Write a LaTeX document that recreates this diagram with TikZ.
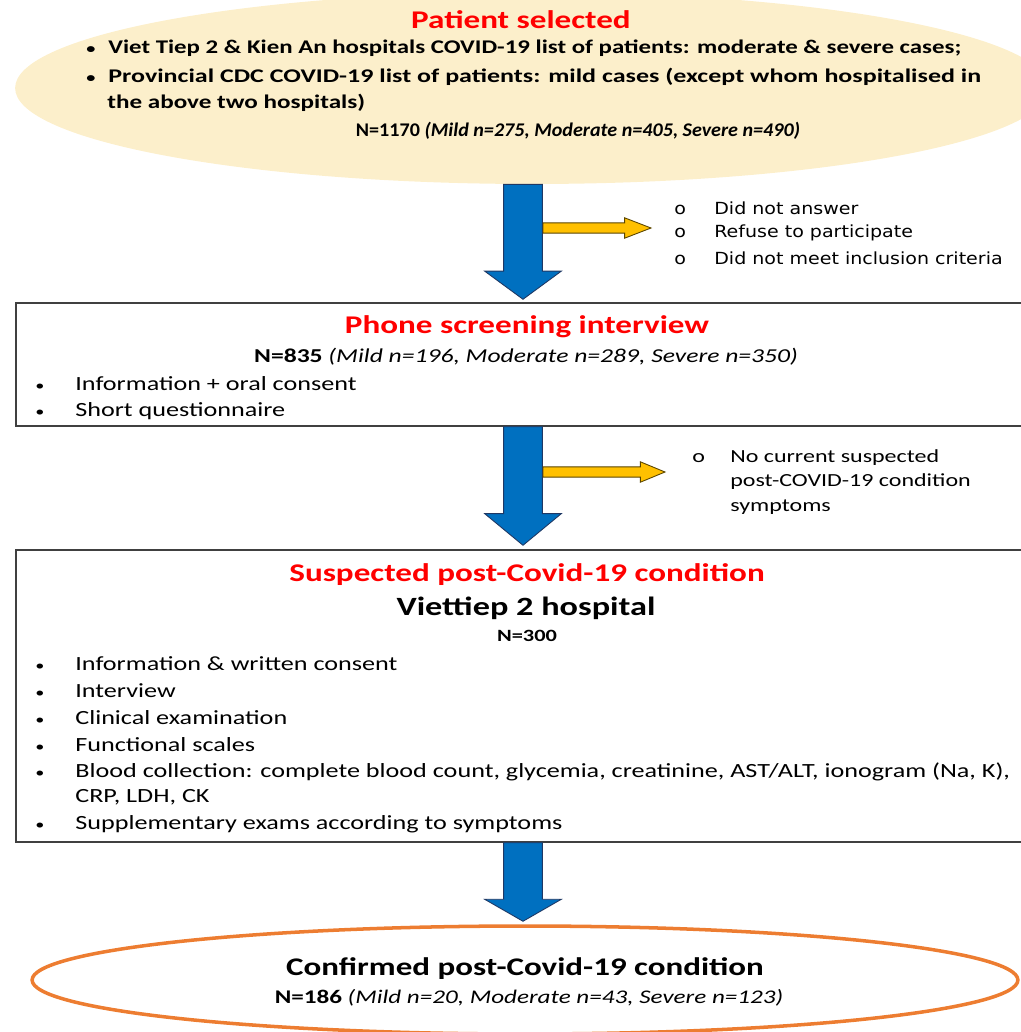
\documentclass[tikz,border=0pt]{standalone}
\usepackage{fontspec}
\usepackage{graphicx}
\setmainfont{Carlito}[FakeStretch=1.3]
\newfontfamily\sidefont{DejaVu Sans}[FakeStretch=1.14]
\usetikzlibrary{shapes.geometric,calc}

\definecolor{selfill}{HTML}{FCEFCB}
\definecolor{boxline}{HTML}{404040}
\definecolor{arrowblue}{HTML}{0070C0}
\definecolor{blueedge}{HTML}{1F3864}
\definecolor{arrowyellow}{HTML}{FFC000}
\definecolor{yellowedge}{HTML}{5A4500}
\definecolor{confline}{HTML}{ED7D31}
\definecolor{titlered}{HTML}{FF0000}

% bullet and circle marks of the lists
\newcommand{\smallbul}{{\fontsize{8}{8}\selectfont\textbullet}}
\newcommand{\selbul}{\makebox[0.44cm][l]{\smallbul}}
\newcommand{\boxbul}{\makebox[0.8cm][l]{\smallbul}}
\newcommand{\dropmark}[1]{\makebox[#1][l]{o}}

% block arrows, #3 = head length
\newcommand{\blockdown}[3]{%
  \filldraw[blockblue] let \p1=(#1), \p2=(#2) in
    (\x1-11pt,\y1) -- (\x1-11pt,\y2+#3) -- (\x1-21.8pt,\y2+#3) -- (\x1,\y2)
    -- (\x1+21.8pt,\y2+#3) -- (\x1+11pt,\y2+#3) -- (\x1+11pt,\y1) -- cycle;}
\newcommand{\blockright}[3]{%
  \filldraw[blockyellow] let \p1=(#1), \p2=(#2) in
    (\x1,\y1+2.9pt) -- (\x2-#3,\y1+2.9pt) -- (\x2-#3,\y1+5.8pt) -- (\x2,\y1)
    -- (\x2-#3,\y1-5.8pt) -- (\x2-#3,\y1-2.9pt) -- (\x1,\y1-2.9pt) -- cycle;}

\begin{document}
\begin{tikzpicture}[x=0.02cm, y=-0.02cm,
    stage/.style={draw=boxline, line width=0.85pt, rectangle, inner sep=0pt,
      minimum width=20.28cm},
    blockblue/.style={fill=arrowblue, draw=blueedge, line width=0.5pt},
    blockyellow/.style={fill=arrowyellow, draw=yellowedge, line width=0.5pt},
    line/.style={anchor=west, inner sep=0pt},
    mid/.style={anchor=center, inner sep=0pt}]

    \useasboundingbox (0,0) rectangle (1021,1032);

    % the four stages
    \node[ellipse, fill=selfill, inner sep=0pt, minimum width=20.68cm,
      minimum height=3.84cm] (sel) at (532,88) {};
    \node[stage, minimum height=2.46cm] (phone) at (523,364.5) {};
    \node[stage, minimum height=5.84cm] (susp) at (523,696) {};
    \node[ellipse, draw=confline, line width=2pt, inner sep=0pt,
      minimum width=19.72cm, minimum height=2.16cm] (conf) at (525,980) {};

    % patient selected
    \node[mid, text=titlered, font=\fontsize{14.5}{17}\bfseries\selectfont] (selT) at (521,20) {Patient selected};
    \node[line, font=\fontsize{11}{13}\bfseries\selectfont] (sel1) at (86,48) {\selbul \scalebox{0.99}[1]{Viet Tiep 2 \& Kien An hospitals COVID-19 list of patients: moderate \& severe cases;}};
    \node[line, font=\fontsize{11}{13}\bfseries\selectfont] (sel2) at (86,77) {\selbul \scalebox{1.035}[1]{Provincial CDC COVID-19 list of patients: mild cases (except whom hospitalised in}};
    \node[line, font=\fontsize{11}{13}\bfseries\selectfont] (sel3) at (107,103) {the above two hospitals)};
    \node[mid, font=\fontsize{11}{13}\bfseries\selectfont] (selN) at (578,131) {\scalebox{0.8}[1]{N=1170 \textit{(Mild n=275, Moderate n=405, Severe n=490)}}};

    % excluded after selection
    \node[line, font=\sidefont\fontsize{9.5}{11}\selectfont] (drop1a) at (674,208) {\dropmark{0.8cm}Did not answer};
    \node[line, font=\sidefont\fontsize{9.5}{11}\selectfont] (drop1b) at (674,233) {\dropmark{0.8cm}Refuse to participate};
    \node[line, font=\sidefont\fontsize{9.5}{11}\selectfont] (drop1c) at (674,258) {\dropmark{0.8cm}Did not meet inclusion criteria};

    % phone screening
    \node[mid, text=titlered, font=\fontsize{14.5}{17}\bfseries\selectfont] (phoneT) at (527,327) {Phone screening interview};
    \node[mid, font=\fontsize{11.2}{13}\selectfont] (phoneN) at (526,357) {\textbf{N=835} \textit{(Mild n=196, Moderate n=289, Severe n=350)}};
    \node[line, font=\fontsize{11.45}{13}\selectfont] (phone1) at (35,384) {\boxbul Information + oral consent};
    \node[line, font=\fontsize{11.45}{13}\selectfont] (phone2) at (35,411) {\boxbul Short questionnaire};

    % excluded after phone screening
    \node[line, font=\fontsize{10.5}{12}\selectfont] (drop2a) at (692,458) {\dropmark{0.76cm}No current suspected};
    \node[line, font=\fontsize{10.5}{12}\selectfont] (drop2b) at (730,482) {post-COVID-19 condition};
    \node[line, font=\fontsize{10.5}{12}\selectfont] (drop2c) at (730,507) {symptoms};

    % suspected post-Covid-19 condition
    \node[mid, text=titlered, font=\fontsize{14.5}{17}\bfseries\selectfont] (suspT) at (527,575) {Suspected post-Covid-19 condition};
    \node[mid, font=\fontsize{15}{18}\bfseries\selectfont] (suspH) at (526,608) {Viettiep 2 hospital};
    \node[mid, font=\fontsize{9.8}{11}\bfseries\selectfont] (suspN) at (527,636) {N=300};
    \node[line, font=\fontsize{11.45}{13}\selectfont] (susp1) at (35,664) {\boxbul Information \& written consent};
    \node[line, font=\fontsize{11.45}{13}\selectfont] (susp2) at (35,691) {\boxbul Interview};
    \node[line, font=\fontsize{11.45}{13}\selectfont] (susp3) at (35,718) {\boxbul Clinical examination};
    \node[line, font=\fontsize{11.45}{13}\selectfont] (susp4) at (35,745) {\boxbul Functional scales};
    \node[line, font=\fontsize{11.45}{13}\selectfont] (susp5) at (35,772) {\boxbul Blood collection: complete blood count, glycemia, creatinine, AST/ALT, ionogram (Na, K),};
    \node[line, font=\fontsize{11.45}{13}\selectfont] (susp6) at (75,797) {CRP, LDH, CK};
    \node[line, font=\fontsize{11.45}{13}\selectfont] (susp7) at (35,824) {\boxbul Supplementary exams according to symptoms};

    % confirmed
    \node[mid, font=\fontsize{14.45}{17}\bfseries\selectfont] (confT) at (525,969) {Confirmed post-Covid-19 condition};
    \node[mid, font=\fontsize{11}{13}\selectfont] (confN) at (529,998) {\textbf{N=186} \textit{(Mild n=20, Moderate n=43, Severe n=123)}};

    % arrows
    \coordinate (a1top) at (sel.south -| phone.north);
    \coordinate (a1tip) at ($(phone.north)+(0,-3)$);
    \coordinate (a2tip) at ($(susp.north)+(0,-4)$);
    \coordinate (a3tip) at ($(conf.north)+(0,-3)$);
    \blockdown{a1top}{a1tip}{16pt}
    \blockdown{phone.south}{a2tip}{18pt}
    \blockdown{susp.south}{a3tip}{12.5pt}

    \coordinate (y1start) at (543,228);
    \coordinate (y1tip) at (651,228);
    \coordinate (y2start) at (543,472);
    \coordinate (y2tip) at (665,472);
    \blockright{y1start}{y1tip}{15pt}
    \blockright{y2start}{y2tip}{14pt}

\end{tikzpicture}
\end{document}
